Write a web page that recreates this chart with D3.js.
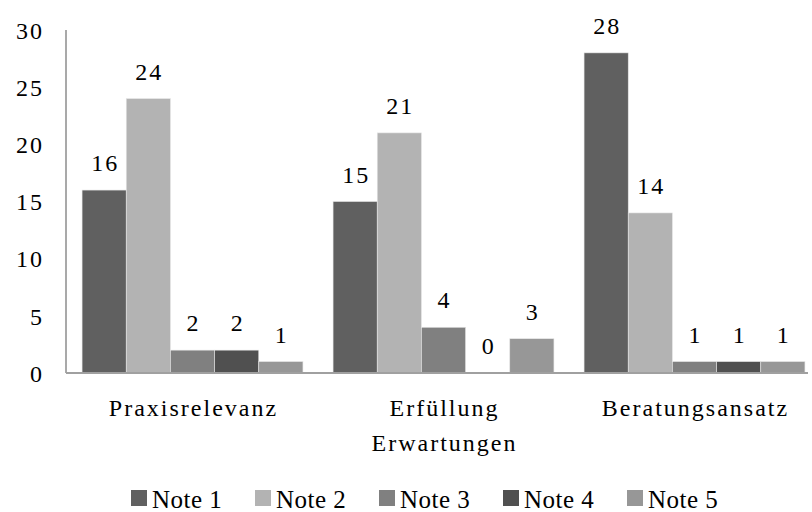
<!DOCTYPE html>
<html>
<head>
<meta charset="utf-8">
<script src="https://cdn.jsdelivr.net/npm/d3@7"></script>
<style>
  html, body { margin: 0; padding: 0; background: #fff; }
  svg { display: block; }
  svg text { font-family: "Liberation Serif"; }
</style>
</head>
<body>
<svg id="chart" width="812" height="512"></svg>
<script>
// Bewertung nach Kategorie und Note
const categories = [["Praxisrelevanz"], ["Erfüllung", "Erwartungen"], ["Beratungsansatz"]];
const seriesNames = ["Note 1", "Note 2", "Note 3", "Note 4", "Note 5"];
const note1 = [16, 15, 28];
const note2 = [24, 21, 14];
const note3 = [2, 4, 1];
const note4 = [2, 0, 1];
const note5 = [1, 3, 1];
const yTicks = [0, 5, 10, 15, 20, 25, 30];
const colors = ["#606060", "#b3b3b3", "#808080", "#505050", "#979797"];

const seriesValues = [note1, note2, note3, note4, note5];
const catKeys = categories.map(c => c.join(" "));
const FONT = '"Liberation Serif"';

const svg = d3.select("#chart");
const LS = 2; // letter spacing for numbers and category names

const x0 = d3.scaleBand()
  .domain(catKeys)
  .range([66, 821])
  .paddingInner(0.12)
  .paddingOuter(0.064);

const x1 = d3.scaleBand()
  .domain(seriesNames)
  .range([0, x0.bandwidth()])
  .padding(0);

const y = d3.scaleLinear().domain([0, 30]).range([373, 30]);

// Y axis labels (no tick marks)
const yAxis = d3.axisLeft(y).tickValues(yTicks).tickSize(0).tickPadding(0);
const yg = svg.append("g").attr("transform", "translate(42,0)").call(yAxis);
yg.attr("font-family", FONT).attr("font-size", 24);
yg.select(".domain").remove();
yg.selectAll("text")
  .attr("font-family", FONT)
  .attr("font-size", 24)
  .attr("letter-spacing", LS)
  .attr("dx", LS)
  .attr("dy", "0.34em")
  .attr("fill", "#000");

// Vertical axis line
svg.append("line")
  .attr("x1", 66).attr("x2", 66)
  .attr("y1", y(30)).attr("y2", y(0))
  .attr("stroke", "#8c8c8c").attr("stroke-width", 1.5);

// Bars
const rows = [];
catKeys.forEach((c, ci) => {
  seriesNames.forEach((s, si) => rows.push({ cat: c, series: s, value: seriesValues[si][ci], si }));
});

svg.append("g").selectAll("rect")
  .data(rows)
  .join("rect")
  .attr("x", d => x0(d.cat) + x1(d.series))
  .attr("y", d => y(d.value))
  .attr("width", x1.bandwidth())
  .attr("height", d => y(0) - y(d.value))
  .attr("fill", d => colors[d.si])
  .attr("stroke", "#e6e6e6")
  .attr("stroke-width", 0.6);

// Value labels
svg.append("g").selectAll("text")
  .data(rows)
  .join("text")
  .attr("x", d => x0(d.cat) + x1(d.series) + x1.bandwidth() / 2 + LS / 2)
  .attr("y", d => y(d.value) - 19)
  .attr("text-anchor", "middle")
  .attr("font-family", FONT)
  .attr("font-size", 24)
  .attr("letter-spacing", LS)
  .attr("fill", "#000")
  .text(d => d.value);

// Horizontal axis line
svg.append("line")
  .attr("x1", 66).attr("x2", 808)
  .attr("y1", y(0)).attr("y2", y(0))
  .attr("stroke", "#a0a0a0").attr("stroke-width", 2);

// Category labels
const catG = svg.append("g");
categories.forEach((lines, ci) => {
  const t = catG.append("text")
    .attr("text-anchor", "middle")
    .attr("font-family", FONT)
    .attr("font-size", 24)
    .attr("letter-spacing", LS)
    .attr("fill", "#000");
  lines.forEach((ln, li) => {
    t.append("tspan")
      .attr("x", x0(catKeys[ci]) + x0.bandwidth() / 2 + LS / 2)
      .attr("y", 416 + li * 35)
      .text(ln);
  });
});

// Legend
const legend = svg.append("g");
seriesNames.forEach((s, i) => {
  const lx = 131 + i * 124;
  legend.append("rect")
    .attr("x", lx).attr("y", 490)
    .attr("width", 16).attr("height", 16)
    .attr("fill", colors[i]);
  legend.append("text")
    .attr("x", lx + 21).attr("y", 508)
    .attr("font-family", FONT)
    .attr("font-size", 25)
    .attr("letter-spacing", 0.5)
    .attr("fill", "#000")
    .text(s);
});
</script>
</body>
</html>
